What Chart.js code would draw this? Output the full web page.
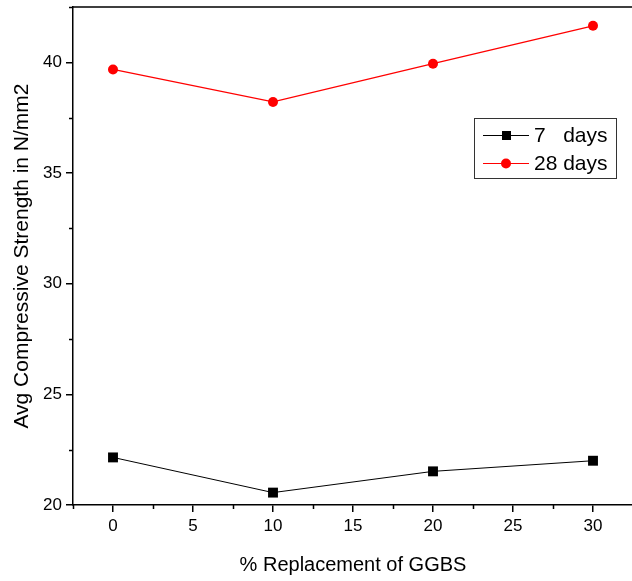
<!DOCTYPE html>
<html>
<head>
<meta charset="utf-8">
<script src="https://cdn.jsdelivr.net/npm/chart.js@4"></script>
<style>
  html, body { margin: 0; padding: 0; background: #fff; overflow: hidden; }
  #wrap { width: 640px; height: 581px; }
</style>
</head>
<body>
<div id="wrap"><canvas id="chart" width="640" height="581"></canvas></div>
<script>
const replacement = [0, 10, 20, 30];
const days7 = [22.15, 20.56, 21.52, 22.0];
const days28 = [39.68, 38.21, 39.94, 41.65];
const xTicks = [0, 5, 10, 15, 20, 25, 30];
const yTicks = [20, 25, 30, 35, 40];
const xMinor = [-2.5, 2.5, 7.5, 12.5, 17.5, 22.5, 27.5, 32.5];
const yMinor = [22.5, 27.5, 32.5, 37.5, 42.5];
const legendLabels = ['7   days', '28 days'];

const FONT = 'Liberation Sans, Arial, sans-serif';

// minor ticks, top border and boxed legend
const extras = {
    id: 'extras',
    afterDraw(chart) {
        const ctx = chart.ctx;
        const x = chart.scales.x, y = chart.scales.y;
        const a = chart.chartArea;
        ctx.save();
        ctx.strokeStyle = '#000';
        ctx.lineWidth = 1.5;
        ctx.beginPath();
        ctx.moveTo(a.left, a.top);
        ctx.lineTo(a.right + 10, a.top);
        xMinor.forEach(v => {
            const px = Math.round(x.getPixelForValue(v)) + 0.5;
            ctx.moveTo(px, a.bottom);
            ctx.lineTo(px, a.bottom + 4);
        });
        yMinor.forEach(v => {
            const py = Math.round(y.getPixelForValue(v)) + 0.5;
            ctx.moveTo(a.left, py);
            ctx.lineTo(a.left - 4, py);
        });
        ctx.stroke();

        // legend
        const bx = 474, by = 118, bw = 142, bh = 60;
        ctx.lineWidth = 1;
        ctx.strokeStyle = '#333';
        ctx.strokeRect(bx + 0.5, by + 0.5, bw, bh);
        ctx.font = '21px ' + FONT;
        ctx.textBaseline = 'middle';
        chart.data.datasets.forEach((ds, i) => {
            const ly = by + 17 + i * 28;
            ctx.strokeStyle = ds.borderColor;
            ctx.lineWidth = 1;
            ctx.beginPath();
            ctx.moveTo(bx + 9, ly + 0.5);
            ctx.lineTo(bx + 55, ly + 0.5);
            ctx.stroke();
            ctx.fillStyle = ds.pointBackgroundColor;
            if (ds.pointStyle === 'rect') {
                ctx.fillRect(bx + 28, ly - 4, 9, 9);
            } else {
                ctx.beginPath();
                ctx.arc(bx + 32, ly + 0.5, 5, 0, Math.PI * 2);
                ctx.fill();
            }
            ctx.fillStyle = '#000';
            ctx.fillText(legendLabels[i], bx + 60, ly + 1);
        });
        ctx.restore();
    }
};

new Chart(document.getElementById('chart'), {
    type: 'line',
    data: {
        datasets: [{
            label: '7 days',
            data: replacement.map((r, i) => ({ x: r, y: days7[i] })),
            borderColor: '#000',
            borderWidth: 1,
            pointStyle: 'rect',
            pointRadius: 7,
            pointBackgroundColor: '#000',
            pointBorderWidth: 0
        }, {
            label: '28 days',
            data: replacement.map((r, i) => ({ x: r, y: days28[i] })),
            borderColor: '#ff0000',
            borderWidth: 1.3,
            pointStyle: 'circle',
            pointRadius: 5,
            pointBackgroundColor: '#ff0000',
            pointBorderWidth: 0
        }]
    },
    options: {
        responsive: false,
        animation: false,
        layout: { padding: { top: 4, right: 5, left: 0, bottom: 0 } },
        plugins: { legend: { display: false }, tooltip: { enabled: false } },
        scales: {
            x: {
                type: 'linear',
                min: -2.5,
                max: 32.5,
                afterBuildTicks: s => { s.ticks = xTicks.map(v => ({ value: v })); },
                afterFit: s => { s.height = 76; s.paddingLeft = 0; s.paddingRight = 0; },
                grid: { drawOnChartArea: false, tickLength: 7, color: '#000', lineWidth: 1.5 },
                border: { color: '#000', width: 1.5 },
                ticks: { color: '#000', font: { family: FONT, size: 17 }, padding: 4, maxRotation: 0 },
                title: { display: true, text: '% Replacement of GGBS', color: '#000',
                         font: { family: FONT, size: 20 }, padding: { top: 10 } }
            },
            y: {
                min: 20,
                max: 42.5,
                afterBuildTicks: s => { s.ticks = yTicks.map(v => ({ value: v })); },
                afterFit: s => { s.width = 73; s.paddingTop = 0; s.paddingBottom = 0; },
                grid: { drawOnChartArea: false, tickLength: 7, color: '#000', lineWidth: 1.5 },
                border: { color: '#000', width: 1.5 },
                ticks: { color: '#000', font: { family: FONT, size: 17 }, padding: 4 },
                title: { display: true, text: 'Avg Compressive Strength in N/mm2', color: '#000',
                         font: { family: FONT, size: 21 }, padding: { top: 10 } }
            }
        }
    },
    plugins: [extras]
});
</script>
</body>
</html>
